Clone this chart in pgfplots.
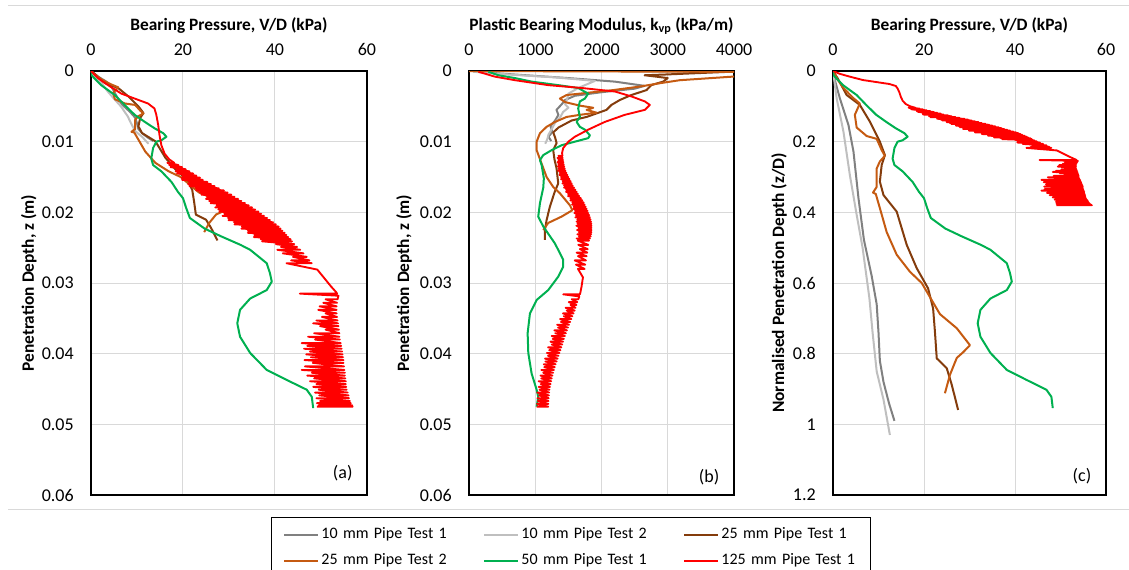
\documentclass[border=0pt]{standalone}
\usepackage{fontspec}
\setmainfont{Carlito}
\usepackage{pgfplots}
\usepackage{pgfplotstable}
\pgfplotsset{compat=1.18}

\definecolor{c10a}{HTML}{808080}
\definecolor{c10b}{HTML}{BFBFBF}
\definecolor{c25a}{HTML}{843C0C}
\definecolor{c25b}{HTML}{C55A11}
\definecolor{c50}{HTML}{00B050}
\definecolor{c125}{HTML}{FF0000}
\definecolor{gridgray}{HTML}{D9D9D9}

\newcommand\tickfont{\fontsize{13.5}{16}\selectfont}
\newcommand\labfont{\fontsize{13}{15}\selectfont}

% bearing pressure V/D (kPa) against penetration depth z (m)
\pgfplotstableread{
v z
0 0
0.5 0.0003
1.5 0.00077
3.4 0.00153
4.5 0.00228
5.6 0.0036
6.8 0.00478
8.5 0.0058
9.6 0.0066
10.0 0.0074
10.3 0.0082
11.1 0.0088
12.3 0.0094
13.5 0.0099
}\tA
\pgfplotstableread{
v z
0 0
0.8 0.00077
2.3 0.00172
3.7 0.00294
5.2 0.00407
6.5 0.0050
8.0 0.00643
8.7 0.0074
9.6 0.0085
11.1 0.0093
12.5 0.0103
}\tB
\pgfplotstableread{
v z
0 0
1.0 0.0005
3.0 0.0017
5.9 0.0024
8.1 0.00358
10.3 0.0050
11.4 0.00595
10.7 0.00665
10.3 0.00783
11.1 0.00878
14.0 0.00995
16.2 0.0123
18.4 0.01395
20.9 0.01538
22.0 0.0168
22.4 0.01843
22.8 0.02033
25.0 0.02103
26.1 0.0222
27.5 0.02398
}\tC
\pgfplotstableread{
v z
0 0
1.0 0.0006
2.3 0.0012
4.4 0.0019
5.9 0.0023
4.8 0.0031
5.2 0.0040
7.4 0.0046
9.6 0.0048
10.7 0.0056
11.4 0.0060
10.3 0.0064
9.6 0.0069
9.6 0.0082
8.8 0.0086
9.4 0.0087
10.3 0.0097
11.8 0.0114
14.0 0.0130
16.9 0.0142
19.5 0.0150
23.5 0.0172
27.2 0.0182
30.1 0.0194
28.6 0.0199
27.2 0.0203
25.7 0.0215
24.6 0.0228
}\tD
\pgfplotstableread{
v z
0 0
0.1 0.0006
2.2 0.0020
5.2 0.0034
7.3 0.0048
9.5 0.0062
11.7 0.0072
13.8 0.0081
15.7 0.0088
16.4 0.0093
15.3 0.0098
14.2 0.0100
13.5 0.0109
13.1 0.0124
13.5 0.0133
15.3 0.0142
17.5 0.0157
18.9 0.0171
20.0 0.0180
20.7 0.0194
21.5 0.0208
24.7 0.0223
28.3 0.0234
32.5 0.0246
34.6 0.0253
38.2 0.0272
38.9 0.0286
39.3 0.0298
38.2 0.0310
34.6 0.0322
32.4 0.0338
31.8 0.0357
32.4 0.0376
34.6 0.0399
38.2 0.0423
42.5 0.0437
46.9 0.0451
48.0 0.0461
48.3 0.0477
}\tE
\pgfplotstableread{
v z
0 0
1.5 0.0010
3.7 0.0020
6.6 0.0032
9.5 0.0039
12.4 0.0046
13.8 0.0053
14.2 0.0062
14.6 0.0076
14.9 0.0091
15.3 0.0105
16.0 0.0117
17.0 0.0125
18.1 0.0130
16.6 0.0130
19.0 0.0133
17.0 0.0133
19.8 0.0136
17.3 0.0136
20.6 0.0139
18.6 0.0139
21.4 0.0142
18.4 0.0142
22.2 0.0145
18.7 0.0145
22.9 0.0148
19.9 0.0148
23.7 0.0151
19.7 0.0151
24.3 0.0154
19.8 0.0154
25.3 0.0157
21.3 0.0157
26.1 0.0160
21.1 0.0160
26.9 0.0163
21.4 0.0163
27.8 0.0166
22.8 0.0166
28.9 0.0169
22.9 0.0169
29.7 0.0172
23.7 0.0172
30.5 0.0175
24.0 0.0175
31.2 0.0178
25.2 0.0178
32.0 0.0181
25.0 0.0181
32.7 0.0184
25.7 0.0184
33.5 0.0187
26.0 0.0187
34.3 0.0190
27.3 0.0190
35.0 0.0193
27.0 0.0193
35.7 0.0196
27.7 0.0196
36.4 0.0199
27.9 0.0199
37.0 0.0202
29.0 0.0202
37.6 0.0205
28.6 0.0205
38.3 0.0208
29.8 0.0208
38.9 0.0211
29.9 0.0211
39.6 0.0214
31.1 0.0214
40.2 0.0217
31.2 0.0217
40.8 0.0220
32.8 0.0220
41.2 0.0223
32.7 0.0223
41.6 0.0226
34.1 0.0226
42.1 0.0229
34.1 0.0229
42.5 0.0232
35.5 0.0232
42.9 0.0235
35.4 0.0235
43.4 0.0238
36.9 0.0238
43.7 0.0241
37.2 0.0241
44.2 0.0245
40.2 0.0245
44.8 0.0249
41.3 0.0249
45.5 0.0253
40.5 0.0253
46.2 0.0258
41.7 0.0258
46.9 0.0263
43.9 0.0263
47.5 0.0268
43.5 0.0268
48.0 0.0272
42.5 0.0272
49.2 0.0281
50.7 0.0293
52.2 0.0305
53.3 0.0313
53.5 0.0315
45.4 0.0315
53.8 0.0318
53.6 0.0323
51.0 0.0323
53.5 0.0328
50.5 0.0328
53.4 0.0333
49.7 0.0333
53.4 0.0338
49.4 0.0338
53.4 0.0343
51.0 0.0343
53.5 0.0348
50.2 0.0348
53.6 0.0353
49.0 0.0353
53.7 0.0357
48.3 0.0357
53.8 0.0361
49.8 0.0361
53.9 0.0366
51.0 0.0366
54.0 0.0371
48.5 0.0371
54.0 0.0376
47.2 0.0376
54.1 0.0380
48.7 0.0380
54.3 0.0385
45.8 0.0385
54.4 0.0389
47.0 0.0389
54.5 0.0393
46.3 0.0393
54.6 0.0397
47.6 0.0397
54.7 0.0401
46.8 0.0401
54.8 0.0405
47.8 0.0405
54.9 0.0409
46.4 0.0409
54.9 0.0413
48.2 0.0413
55.0 0.0418
46.5 0.0418
55.1 0.0423
45.8 0.0423
55.2 0.0427
48.0 0.0427
55.2 0.0431
47.0 0.0431
55.3 0.0435
48.5 0.0435
55.4 0.0439
47.6 0.0439
55.4 0.0443
49.0 0.0443
55.5 0.0447
48.3 0.0447
55.6 0.0451
49.5 0.0451
55.8 0.0455
48.7 0.0455
56.0 0.0459
49.6 0.0459
56.1 0.0463
49.0 0.0463
56.3 0.0467
49.8 0.0467
56.5 0.0470
49.1 0.0470
56.8 0.0473
49.5 0.0473
56.9 0.0475
49.1 0.0475
}\tF

% plastic bearing modulus k_vp (kPa/m) against penetration depth z (m)
\pgfplotstableread{
k z
90 0.0001
700 0.0005
1500 0.0010
2200 0.0015
2650 0.0021
2500 0.0025
2000 0.0030
1600 0.0035
1450 0.0041
1400 0.0047
1320 0.0055
1350 0.0062
1300 0.0070
1230 0.0078
1260 0.0086
1200 0.0093
1240 0.0099
}\kA
\pgfplotstableread{
k z
60 0.0001
600 0.0005
1300 0.0009
1900 0.0014
1800 0.0018
1650 0.0024
1500 0.0032
1480 0.0040
1450 0.0047
1500 0.0052
1420 0.0058
1380 0.0065
1300 0.0073
1250 0.0082
1200 0.0090
1180 0.0097
1150 0.0103
}\kB
\pgfplotstableread{
k z
2250 0
4500 0.00003
3960 0.0001
3450 0.0003
2950 0.0005
2650 0.0006
2830 0.0008
3000 0.0010
2930 0.0015
2750 0.0020
2680 0.0027
2450 0.0034
2277 0.0041
2150 0.0048
2076 0.0055
1775 0.0065
1550 0.0070
1350 0.0080
1271 0.0087
1300 0.0094
1322 0.0102
1271 0.0112
1290 0.0125
1322 0.0138
1347 0.0159
1290 0.0172
1221 0.0192
1171 0.0211
1146 0.0225
1146 0.0239
}\kC
\pgfplotstableread{
k z
0 0
5000 0.00015
3182 0.0013
2900 0.0017
2578 0.0022
2176 0.0027
1875 0.0030
1473 0.0034
1372 0.0039
1450 0.0044
1674 0.0049
1875 0.0052
1775 0.0055
1926 0.0059
1674 0.0062
1473 0.0065
1300 0.0072
1171 0.0079
1071 0.0088
1021 0.0100
1021 0.0112
1096 0.0131
1171 0.0150
1271 0.0164
1372 0.0173
1523 0.0190
1560 0.0197
1398 0.0206
1196 0.0215
1121 0.0225
}\kD
\pgfplotstableread{
k z
292 0.0001
443 0.0006
694 0.0010
945 0.0015
1347 0.0020
1648 0.0024
1799 0.0032
1749 0.0039
1674 0.0043
1648 0.0053
1674 0.0065
1624 0.0072
1674 0.0079
1749 0.0083
1825 0.0091
1799 0.0095
1598 0.0100
1398 0.0105
1247 0.0112
1121 0.0119
1071 0.0126
1096 0.0133
1130 0.0152
1121 0.0165
1071 0.0187
1045 0.0206
1121 0.0220
1297 0.0244
1422 0.0267
1422 0.0277
1347 0.0291
1196 0.0310
1021 0.0324
920 0.0343
885 0.0371
895 0.0399
945 0.0428
1021 0.0451
1045 0.0461
1021 0.0475
}\kE
\pgfplotstableread{
k z
141 0.0001
392 0.0008
694 0.0013
1196 0.0020
1699 0.0024
2202 0.0029
2453 0.0036
2654 0.0043
2730 0.0048
2654 0.0055
2352 0.0062
2051 0.0072
1799 0.0083
1598 0.0093
1500 0.0100
1422 0.0109
1405 0.0116
1410 0.0120
1350 0.0120
1415 0.0123
1335 0.0123
1420 0.0126
1350 0.0126
1425 0.0129
1335 0.0129
1430 0.0132
1350 0.0132
1438 0.0135
1338 0.0135
1445 0.0138
1355 0.0138
1455 0.0141
1345 0.0141
1470 0.0144
1370 0.0144
1485 0.0147
1365 0.0147
1500 0.0150
1390 0.0150
1518 0.0153
1388 0.0153
1535 0.0156
1415 0.0156
1550 0.0159
1410 0.0159
1565 0.0162
1435 0.0162
1585 0.0165
1435 0.0165
1605 0.0168
1465 0.0168
1625 0.0171
1465 0.0171
1645 0.0174
1495 0.0174
1665 0.0177
1495 0.0177
1690 0.0180
1530 0.0180
1710 0.0183
1530 0.0183
1730 0.0186
1560 0.0186
1745 0.0189
1555 0.0189
1760 0.0192
1580 0.0192
1775 0.0195
1575 0.0195
1790 0.0198
1600 0.0198
1800 0.0201
1590 0.0201
1815 0.0204
1615 0.0204
1825 0.0207
1605 0.0207
1835 0.0210
1635 0.0210
1842 0.0213
1622 0.0213
1848 0.0216
1638 0.0216
1850 0.0219
1620 0.0219
1850 0.0222
1650 0.0222
1850 0.0225
1630 0.0225
1848 0.0228
1658 0.0228
1845 0.0231
1635 0.0231
1838 0.0234
1658 0.0234
1825 0.0237
1625 0.0237
1812 0.0240
1642 0.0240
1800 0.0246
1650 0.0246
1792 0.0252
1672 0.0252
1785 0.0257
1625 0.0257
1775 0.0262
1645 0.0262
1765 0.0268
1595 0.0268
1755 0.0274
1615 0.0274
1745 0.0280
1645 0.0280
1720 0.0292
1699 0.0305
1680 0.0314
1674 0.0316
1422 0.0316
1665 0.0319
1650 0.0323
1550 0.0323
1635 0.0327
1505 0.0327
1622 0.0331
1532 0.0331
1608 0.0335
1458 0.0335
1595 0.0339
1475 0.0339
1578 0.0343
1418 0.0343
1560 0.0347
1430 0.0347
1545 0.0351
1375 0.0351
1528 0.0355
1388 0.0355
1510 0.0359
1330 0.0359
1494 0.0363
1344 0.0363
1478 0.0367
1288 0.0367
1462 0.0371
1302 0.0371
1448 0.0375
1248 0.0375
1433 0.0379
1263 0.0379
1420 0.0383
1230 0.0383
1408 0.0387
1248 0.0387
1394 0.0391
1194 0.0391
1380 0.0395
1210 0.0395
1366 0.0399
1176 0.0399
1352 0.0403
1192 0.0403
1338 0.0407
1148 0.0407
1323 0.0411
1153 0.0411
1308 0.0415
1128 0.0415
1295 0.0419
1135 0.0419
1282 0.0423
1092 0.0423
1270 0.0427
1120 0.0427
1259 0.0431
1079 0.0431
1250 0.0435
1090 0.0435
1241 0.0439
1051 0.0439
1232 0.0443
1082 0.0443
1222 0.0447
1052 0.0447
1215 0.0451
1065 0.0451
1210 0.0455
1030 0.0455
1206 0.0459
1056 0.0459
1203 0.0463
1033 0.0463
1200 0.0467
1040 0.0467
1198 0.0471
1028 0.0471
1196 0.0475
1021 0.0475
}\kF

\pgfplotsset{
  panel/.style={
    scale only axis, height=318pt,
    y dir=reverse, ymin=0,
    axis line style={line width=1pt, black},
    grid=major, major grid style={line width=0.75pt, gridgray},
    major tick length=0pt, tick style={draw=none},
    xticklabel pos=upper,
    xticklabel style={anchor=base, inner sep=0pt, yshift=12pt, font=\tickfont},
    yticklabel style={anchor=east, inner sep=0pt, xshift=-12.75pt, font=\tickfont},
    xlabel style={at={(axis description cs:0.5,1)}, anchor=base, yshift=30.75pt, font=\bfseries\labfont},
    scaled ticks=false,
    /pgf/number format/assume math mode=true,
  },
  s10a/.style={c10a, line width=1.5pt, line join=round},
  s10b/.style={c10b, line width=1.5pt, line join=round},
  s25a/.style={c25a, line width=1.5pt, line join=round},
  s25b/.style={c25b, line width=1.5pt, line join=round},
  s50/.style={c50, line width=1.5pt, line join=round},
  s125/.style={c125, line width=1.4pt, line join=round},
}

\begin{document}
\begin{tikzpicture}
\useasboundingbox (0,0) rectangle (846.75pt,-426.75pt);
\draw[gridgray, line width=0.75pt] (6pt,-3.75pt) -- (846.75pt,-3.75pt);
\draw[gridgray, line width=0.75pt] (6pt,-381.75pt) -- (846.75pt,-381.75pt);

% (a)
\begin{axis}[panel, at={(68.25pt,-53.25pt)}, anchor=north west, width=207pt,
  xmin=0, xmax=60, xtick={0,20,40,60}, xticklabels={0,20,40,60},
  ymax=0.06, ytick={0,0.01,0.02,0.03,0.04,0.05,0.06},
  yticklabels={0,0.01,0.02,0.03,0.04,0.05,0.06},
  xlabel={Bearing Pressure, V/D (kPa)},
  ylabel={Penetration Depth, z (m)},
  ylabel style={at={(axis description cs:-0.225,0.5)}, anchor=center, font=\bfseries\labfont}]
\addplot[s10a] table[x=v, y=z] {\tA};
\addplot[s10b] table[x=v, y=z] {\tB};
\addplot[s25a] table[x=v, y=z] {\tC};
\addplot[s25b] table[x=v, y=z] {\tD};
\addplot[s50] table[x=v, y=z] {\tE};
\addplot[s125] table[x=v, y=z] {\tF};
\node[font=\tickfont] at (axis description cs:0.912,0.052) {(a)};
\end{axis}

% (b)
\begin{axis}[panel, at={(351.75pt,-53.25pt)}, anchor=north west, width=198.75pt,
  xmin=0, xmax=4000, xtick={0,1000,2000,3000,4000},
  xticklabels={0,1000,2000,3000,4000},
  ymax=0.06, ytick={0,0.01,0.02,0.03,0.04,0.05,0.06},
  yticklabels={0,0.01,0.02,0.03,0.04,0.05,0.06},
  xlabel={Plastic Bearing Modulus, k\textsubscript{vp} (kPa/m)},
  ylabel={Penetration Depth, z (m)},
  ylabel style={at={(axis description cs:-0.245,0.5)}, anchor=center, font=\bfseries\labfont},
  legend columns=3, legend cell align=left,
  legend image code/.code={\path (0pt,0pt); \draw[#1, line width=1.5pt] (0pt,0pt) -- (25.5pt,0pt);},
  legend style={at={(axis description cs:-0.7472,-0.0519)}, anchor=north west,
    draw=black, line width=0.75pt, fill=white, inner xsep=9pt, inner ysep=6.75pt,
    font=\fontsize{12}{14}\selectfont,
    nodes={inner sep=0pt, text height=9pt, text depth=3pt, text width=102.75pt, align=left},
    /tikz/row sep=7.5pt,
    /tikz/every odd column/.append style={column sep=1.5pt},
    /tikz/every even column/.append style={column sep=18.75pt}}]
\addplot[s10a] table[x=k, y=z] {\kA};
\addlegendentry{10 mm Pipe Test 1}
\addplot[s10b] table[x=k, y=z] {\kB};
\addlegendentry{10 mm Pipe Test 2}
\addplot[s25a] table[x=k, y=z] {\kC};
\addlegendentry{25 mm Pipe Test 1}
\addplot[s25b] table[x=k, y=z] {\kD};
\addlegendentry{25 mm Pipe Test 2}
\addplot[s50] table[x=k, y=z] {\kE};
\addlegendentry{50 mm Pipe Test 1}
\addplot[s125] table[x=k, y=z] {\kF};
\addlegendentry{125 mm Pipe Test 1}
\node[font=\tickfont] at (axis description cs:0.906,0.042) {(b)};
\end{axis}

% (c)
\begin{axis}[panel, at={(624.75pt,-53.25pt)}, anchor=north west, width=204.75pt,
  xmin=0, xmax=60, xtick={0,20,40,60}, xticklabels={0,20,40,60},
  ymax=1.2, ytick={0,0.2,0.4,0.6,0.8,1,1.2},
  yticklabels={0,0.2,0.4,0.6,0.8,1,1.2},
  xlabel={Bearing Pressure, V/D (kPa)},
  ylabel={Normalised Penetration Depth (z/D)},
  ylabel style={at={(axis description cs:-0.198,0.5)}, anchor=center, font=\bfseries\labfont}]
\addplot[s10a] table[x=v, y expr=\thisrow{z}/0.01] {\tA};
\addplot[s10b] table[x=v, y expr=\thisrow{z}/0.01] {\tB};
\addplot[s25a] table[x=v, y expr=\thisrow{z}/0.025] {\tC};
\addplot[s25b] table[x=v, y expr=\thisrow{z}/0.025] {\tD};
\addplot[s50] table[x=v, y expr=\thisrow{z}/0.05] {\tE};
\addplot[s125] table[x=v, y expr=\thisrow{z}/0.125] {\tF};
\node[font=\tickfont] at (axis description cs:0.912,0.045) {(c)};
\end{axis}
\end{tikzpicture}
\end{document}
